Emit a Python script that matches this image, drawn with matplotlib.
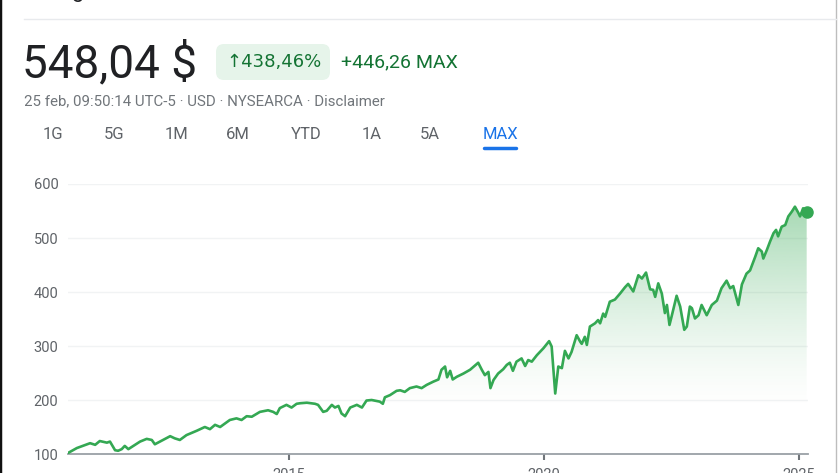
import matplotlib.pyplot as plt
import numpy as np
from matplotlib.patches import FancyBboxPatch, Polygon

# price history (decimal year, price in $)
years = [2010.67, 2010.84, 2011.10, 2011.20, 2011.29, 2011.43, 2011.49, 2011.59, 2011.65,
         2011.72, 2011.78, 2011.85, 2011.95, 2012.08, 2012.21, 2012.31, 2012.37, 2012.47,
         2012.67, 2012.76, 2012.86, 2012.99, 2013.19, 2013.35, 2013.45, 2013.55, 2013.65,
         2013.84, 2013.97, 2014.07, 2014.17, 2014.27, 2014.43, 2014.59, 2014.69, 2014.76,
         2014.82, 2014.95, 2015.05, 2015.15, 2015.22, 2015.35, 2015.51, 2015.57, 2015.67,
         2015.74, 2015.84, 2015.90, 2015.97, 2016.03, 2016.10, 2016.20, 2016.33, 2016.43,
         2016.52, 2016.62, 2016.78, 2016.84, 2016.88, 2016.98, 2017.11, 2017.18, 2017.27,
         2017.37, 2017.50, 2017.60, 2017.70, 2017.83, 2017.93, 2017.99, 2018.06, 2018.10,
         2018.16, 2018.21, 2018.29, 2018.42, 2018.55, 2018.71, 2018.78, 2018.84, 2018.91,
         2018.95, 2019.01, 2019.10, 2019.20, 2019.27, 2019.33, 2019.39, 2019.46, 2019.56,
         2019.63, 2019.69, 2019.76, 2019.86, 2019.99, 2020.10, 2020.15, 2020.22, 2020.28,
         2020.35, 2020.41, 2020.48, 2020.54, 2020.64, 2020.71, 2020.74, 2020.80, 2020.84,
         2020.90, 2021.00, 2021.06, 2021.10, 2021.16, 2021.20, 2021.29, 2021.39, 2021.49,
         2021.59, 2021.65, 2021.75, 2021.85, 2021.92, 2022.00, 2022.08, 2022.14, 2022.18,
         2022.24, 2022.31, 2022.37, 2022.41, 2022.46, 2022.50, 2022.60, 2022.67, 2022.75,
         2022.80, 2022.86, 2022.90, 2022.96, 2023.03, 2023.09, 2023.19, 2023.29, 2023.39,
         2023.48, 2023.58, 2023.65, 2023.71, 2023.81, 2023.88, 2023.97, 2024.04, 2024.14,
         2024.20, 2024.27, 2024.30, 2024.37, 2024.43, 2024.50, 2024.55, 2024.59, 2024.66,
         2024.73, 2024.79, 2024.86, 2024.92, 2024.99, 2025.02, 2025.08, 2025.15]
prices = [102, 111, 120, 117, 124, 121, 123, 107, 106,
          109, 115, 109, 115, 123, 128, 126, 118, 123,
          133, 129, 126, 135, 143, 150, 146, 154, 150,
          163, 166, 163, 170, 169, 178, 181, 178, 174,
          185, 191, 186, 193, 194, 195, 193, 191, 178,
          180, 191, 186, 189, 175, 170, 186, 191, 186,
          199, 200, 197, 193, 205, 209, 217, 218, 215,
          222, 225, 222, 228, 234, 238, 256, 262, 242,
          254, 238, 243, 249, 256, 269, 256, 246, 252,
          222, 237, 249, 257, 265, 269, 254, 271, 277,
          263, 274, 271, 283, 296, 309, 299, 212, 262,
          259, 291, 277, 289, 320, 308, 304, 317, 302,
          336, 342, 348, 342, 360, 354, 382, 386, 397,
          409, 415, 401, 431, 425, 436, 405, 404, 391,
          416, 397, 361, 376, 339, 354, 393, 373, 330,
          336, 373, 370, 351, 357, 376, 357, 376, 384,
          407, 421, 407, 411, 376, 414, 434, 440, 465,
          481, 475, 462, 478, 493, 509, 515, 503, 521,
          524, 540, 549, 558, 546, 540, 555, 548.04]

y_ticks = [100, 200, 300, 400, 500, 600]
x_ticks = [2015, 2020, 2025]
tabs = ["1G", "5G", "1M", "6M", "YTD", "1A", "5A", "MAX"]
tab_x = [53, 114, 176, 238, 306, 372, 430, 500]

green = '#34a853'
dark_green = '#137333'
grey_text = '#70757a'
W, H = 840, 473

fig = plt.figure(figsize=(W / 100, H / 100), dpi=100)
plt.rcParams['font.family'] = ['Roboto', 'DejaVu Sans']

# background layer in pixel coordinates for the page header
bg = fig.add_axes([0, 0, 1, 1])
bg.set_xlim(0, W)
bg.set_ylim(H, 0)
bg.axis('off')
bg.plot([0, 0], [0, H], color='#111111', lw=2.5)
bg.plot([836, 836], [0, H], color='#bdbdbd', lw=1)
bg.plot([24, 836], [19, 19], color='#e8eaed', lw=1)
bg.text(72, 2, "g", fontsize=16, color='#202124', ha='left', va='bottom')

bg.text(22, 64, "548,04 $", fontsize=33, color='#202124', va='center', ha='left')
bg.add_patch(FancyBboxPatch((216, 44), 114, 36, boxstyle="round,pad=0,rounding_size=8",
                            facecolor='#e6f4ea', edgecolor='none'))
bg.text(274, 62, "↑438,46%", fontsize=13, color=dark_green, va='center', ha='center',
        family=['DejaVu Sans', 'Roboto'])
bg.text(341, 62, "+446,26 MAX", fontsize=14, color=dark_green, va='center', ha='left')
bg.text(24, 101, "25 feb, 09:50:14 UTC-5 · USD · NYSEARCA · Disclaimer", fontsize=10.8,
        color=grey_text, va='center', ha='left')
for label, x in zip(tabs, tab_x):
    colour = '#1a73e8' if label == "MAX" else '#5f6368'
    bg.text(x, 134, label, fontsize=12, color=colour, va='center', ha='center')
bg.plot([484, 516], [148, 148], color='#1a73e8', lw=2.5, solid_capstyle='round')

# chart
ax = fig.add_axes([68 / W, (H - 454) / H, 740 / W, 270 / H])
ax.set_facecolor('none')
ax.set_xlim(2010.667, 2025.176)
ax.set_ylim(100, 600)

# vertical gradient under the line, clipped to the area below it
grad = np.linspace(0, 1, 256)[:, None]
alpha = np.clip((grad * 500 - 80) / 370, 0, 1) ** 1.4 * 0.42
rgba = np.zeros((256, 1, 4))
rgba[..., 0] = 0x34 / 255
rgba[..., 1] = 0xa8 / 255
rgba[..., 2] = 0x53 / 255
rgba[..., 3] = alpha
img = ax.imshow(rgba, extent=[years[0], years[-1], 100, 600], origin='lower',
                aspect='auto', zorder=1, interpolation='bilinear')
poly = Polygon(list(zip(years, prices)) + [(years[-1], 100), (years[0], 100)],
               closed=True, facecolor='none', edgecolor='none', transform=ax.transData)
ax.add_patch(poly)
img.set_clip_path(poly)

ax.plot(years, prices, color=green, lw=1.9, zorder=3, solid_joinstyle='round')
ax.plot(years[-1], prices[-1], 'o', color=green, markersize=8, zorder=4, clip_on=False)

ax.set_yticks(y_ticks)
ax.set_yticklabels([str(v) for v in y_ticks])
ax.set_xticks(x_ticks)
ax.set_xticklabels([str(v) for v in x_ticks])
for v in y_ticks[1:]:
    ax.axhline(v, color='#f1f3f4', lw=1, zorder=0)

for s in ['top', 'right', 'left']:
    ax.spines[s].set_visible(False)
ax.spines['bottom'].set_color('#9aa0a6')
ax.spines['bottom'].set_linewidth(1.3)
ax.tick_params(axis='y', length=0, pad=7, labelsize=10.5, labelcolor='#5f6368')
ax.tick_params(axis='x', length=4, width=1.5, color='#70757a', pad=6, labelsize=10.5,
               labelcolor='#5f6368')

fig.savefig('out.png', dpi=100)
